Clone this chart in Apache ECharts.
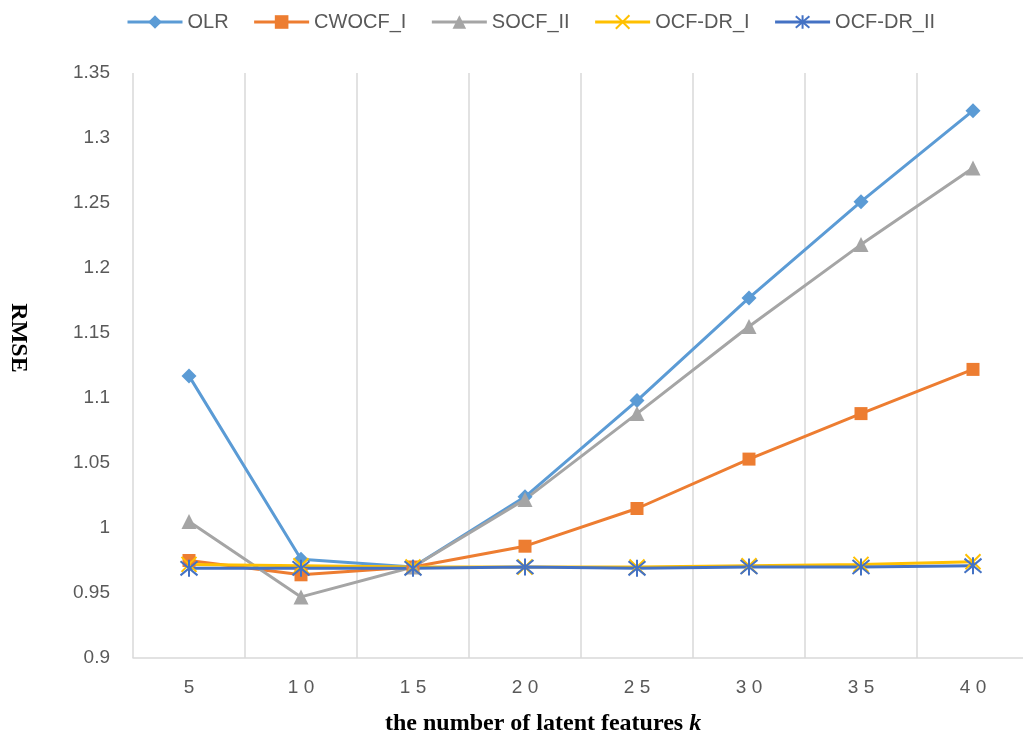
<!DOCTYPE html>
<html><head><meta charset="utf-8">
<script src="https://cdn.jsdelivr.net/npm/echarts@6/dist/echarts.min.js"></script>
<style>html,body{margin:0;padding:0;background:#fff}#c{width:1023px;height:738px}</style>
</head><body><div id="c"></div>
<script>
var categories = ['5','10','15','20','25','30','35','40'];
var olr      = [1.117, 0.976, 0.970, 1.024, 1.098, 1.177, 1.251, 1.321];
var cwocfI   = [0.975, 0.964, 0.970, 0.986, 1.015, 1.053, 1.088, 1.122];
var socfII   = [1.005, 0.947, 0.970, 1.022, 1.088, 1.155, 1.218, 1.277];
var ocfdrI   = [0.972, 0.971, 0.970, 0.970, 0.970, 0.971, 0.972, 0.974];
var ocfdrII  = [0.969, 0.969, 0.969, 0.970, 0.969, 0.970, 0.970, 0.971];
var seriesNames = ['OLR','CWOCF_I','SOCF_II','OCF-DR_I','OCF-DR_II'];
var yTicks = {min: 0.9, max: 1.35, interval: 0.05};

var colors = ['#5b9bd5','#ed7d31','#a5a5a5','#ffc000','#4472c4'];
var symX = 'path://M0,0L10,10M10,0L0,10';
var symAst = 'path://M0,1L10,11M10,1L0,11M5,0L5,12';
var symbols = ['diamond','rect','triangle',symX,symAst];
var sizes = [15,13,15,15,17];
var datas = [olr,cwocfI,socfII,ocfdrI,ocfdrII];

var chart = echarts.init(document.getElementById('c'));
var series = seriesNames.map(function(n,i){
  var s = {
    name:n, type:'line', data:datas[i], symbol:symbols[i], symbolSize:sizes[i],
    showAllSymbol:true,
    lineStyle:{color:colors[i], width:3},
    itemStyle:{color:colors[i], opacity:1},
    emphasis:{disabled:true}
  };
  if(i>=3){ s.itemStyle = {color:'none', borderColor:colors[i], borderWidth:2}; }
  return s;
});
chart.setOption({
  animation:false,
  color:colors,
  legend:{
    top:7, left:121, itemWidth:55, itemHeight:17, itemGap:24,
    lineStyle:{width:3},
    textStyle:{fontFamily:'Liberation Sans', fontSize:20, color:'#595959'},
    data:seriesNames
  },
  grid:{left:133, top:73, width:896, height:585, containLabel:false, outerBoundsMode:'none'},
  xAxis:{
    type:'category', data:categories, boundaryGap:true,
    axisLine:{show:true, lineStyle:{color:'#d9d9d9', width:1.5}},
    axisTick:{show:false},
    splitLine:{show:true, lineStyle:{color:'#d9d9d9', width:1.5}},
    axisLabel:{margin:20, fontFamily:'Liberation Sans', fontSize:19, color:'#595959',
      formatter:function(v){return v.split('').join(' ');}}
  },
  yAxis:{
    type:'value', min:yTicks.min, max:yTicks.max, interval:yTicks.interval,
    axisLine:{show:false}, axisTick:{show:false}, splitLine:{show:false},
    axisLabel:{margin:23, fontFamily:'Liberation Sans', fontSize:19, color:'#595959',
      formatter:function(v){return String(+v.toFixed(2));}}
  },
  title:{
    text:'{b|the number of latent features }{i|k}',
    left:380, top:707,
    textStyle:{rich:{
      b:{fontFamily:'Liberation Serif', fontWeight:'bold', fontSize:24, color:'#000'},
      i:{fontFamily:'Liberation Serif', fontWeight:'bold', fontStyle:'italic', fontSize:24, color:'#000'}
    }}
  },
  graphic:[{
    type:'text', x:18, y:338, rotation:-Math.PI/2,
    style:{text:'RMSE', fontFamily:'Liberation Serif', fontWeight:'bold', fontSize:24,
      fill:'#000', align:'center', verticalAlign:'middle'}
  }],
  series:series
});
</script></body></html>
